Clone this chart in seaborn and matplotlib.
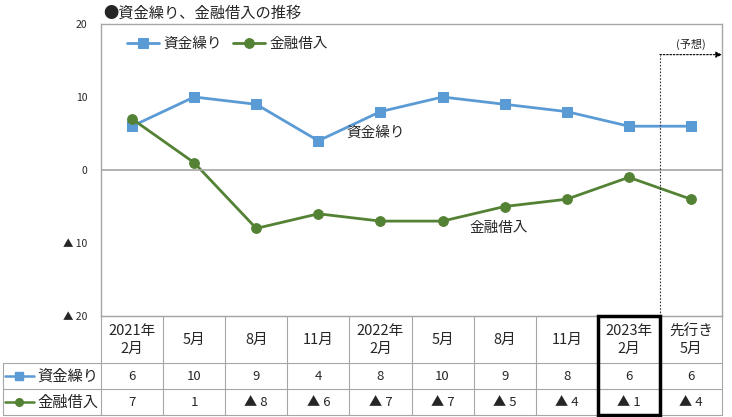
import matplotlib
matplotlib.use("Agg")
import matplotlib.pyplot as plt
import seaborn as sns
import pandas as pd
from matplotlib.lines import Line2D

# data
periods = ["2021年\n2月", "5月", "8月", "11月", "2022年\n2月", "5月", "8月", "11月", "2023年\n2月", "先行き\n5月"]
funding = [6, 10, 9, 4, 8, 10, 9, 8, 6, 6]
borrowing = [7, 1, -8, -6, -7, -7, -5, -4, -1, -4]
series_names = ["資金繰り", "金融借入"]
yticks = [20, 10, 0, -10, -20]

BLUE = "#5B9BD5"
GREEN = "#548235"
GRID = "#A6A6A6"

sns.set_theme(style="white")
plt.rcParams["font.family"] = ["Noto Sans CJK JP", "DejaVu Sans"]

def fmt(v):
    return f"▲ {abs(v)}" if v < 0 else str(v)

df = pd.DataFrame({"x": range(len(periods)), series_names[0]: funding, series_names[1]: borrowing})

fig = plt.figure(figsize=(7.32, 4.17), dpi=100)
W, H = 732, 417
ax = fig.add_axes([101 / W, (H - 316) / H, 621 / W, 292 / H])

sns.lineplot(data=df, x="x", y=series_names[0], ax=ax, color=BLUE, marker="s",
             markersize=7, markeredgecolor=BLUE, linewidth=2, label=series_names[0])
sns.lineplot(data=df, x="x", y=series_names[1], ax=ax, color=GREEN, marker="o",
             markersize=7, markeredgecolor=GREEN, linewidth=2, label=series_names[1])

ax.set_xlim(-0.5, len(periods) - 0.5)
ax.set_ylim(-20, 20)
ax.set_xticks([])
ax.set_yticks(yticks)
ax.set_yticklabels([fmt(t) for t in yticks], fontsize=7.5)
ax.tick_params(axis="y", length=0, pad=10)
ax.set_xlabel("")
ax.set_ylabel("")
for s in ax.spines.values():
    s.set_color(GRID)
    s.set_linewidth(1)
ax.axhline(0, color=GRID, linewidth=1.2)

leg = ax.legend(loc="upper left", ncol=2, frameon=False, fontsize=10.5,
                bbox_to_anchor=(0.02, 1.0), handlelength=2.2, columnspacing=0.8,
                handletextpad=0.3)

ax.text(3.92, 5.1, series_names[0], fontsize=10.5, ha="center", va="center")
ax.text(5.9, -8.0, series_names[1], fontsize=10.5, ha="center", va="center")

# forecast marker
ax.plot([8.5, 8.5], [-20, 15.8], color="#333333", linestyle=(0, (1.5, 1.5)), linewidth=0.8)
ax.annotate("", xy=(9.5, 15.8), xytext=(8.5, 15.8),
            arrowprops=dict(arrowstyle="-|>", color="black", linestyle=(0, (1.5, 1.5)),
                            linewidth=0.8, shrinkA=0, shrinkB=0, mutation_scale=9))
ax.text(9.0, 17.2, "(予想)", fontsize=8, ha="center", va="center")

fig.text(103 / W, 1 - 13 / H, "●資金繰り、金融借入の推移", fontsize=11, ha="left", va="center")

# data table below the plot
tb = fig.add_axes([0, (H - 416) / H, 722 / W, 100 / H])
cw = 621 / len(periods)
tb.set_xlim(9.5 - 722 / cw, 9.5)
tb.set_ylim(416, 316)
tb.axis("off")
x0 = 9.5 - 719 / cw
rows = [316, 363, 389, 415]
lw = 0.8
for y in rows:
    left = -0.5 if y == 316 else x0
    tb.plot([left, 9.5], [y, y], color=GRID, linewidth=lw, clip_on=False)
for i in range(len(periods) + 1):
    tb.plot([i - 0.5, i - 0.5], [316, 415], color=GRID, linewidth=lw, clip_on=False)
tb.plot([x0, x0], [363, 415], color=GRID, linewidth=lw, clip_on=False)

for i, p in enumerate(periods):
    tb.text(i, 340, p, ha="center", va="center", fontsize=10.5, linespacing=1.3)
    tb.text(i, 376, fmt(funding[i]), ha="center", va="center", fontsize=9.5)
    tb.text(i, 402, fmt(borrowing[i]), ha="center", va="center", fontsize=9.5)

for y, name, col, mk in [(376, series_names[0], BLUE, "s"), (402, series_names[1], GREEN, "o")]:
    tb.add_line(Line2D([x0 + 0.03, x0 + 0.5], [y, y], color=col, linewidth=1.8, clip_on=False))
    tb.plot([x0 + 0.265], [y], marker=mk, color=col, markersize=5.5, clip_on=False)
    tb.text(x0 + 0.55, y, name, ha="left", va="center", fontsize=11)

# highlight the latest actual column
tb.add_patch(plt.Rectangle((7.5, 316), 1, 99, fill=False, edgecolor="black",
                           linewidth=2.5, clip_on=False, zorder=5))

fig.savefig("out.png", dpi=100)
